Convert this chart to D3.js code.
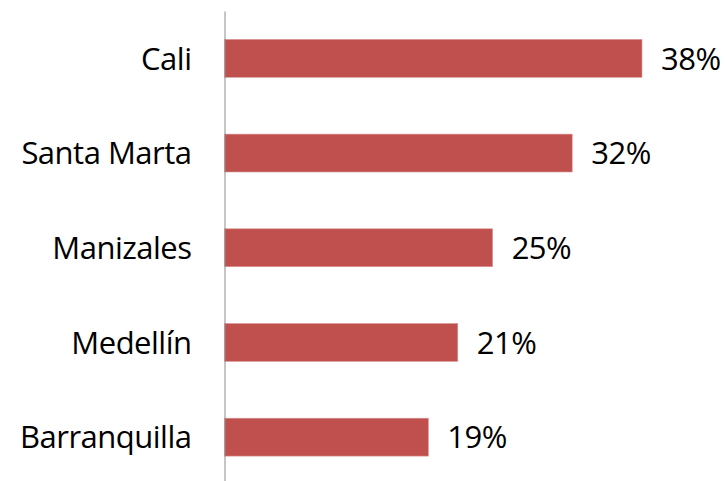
<!DOCTYPE html>
<html>
<head>
<meta charset="utf-8">
<script src="https://cdn.jsdelivr.net/npm/d3@7"></script>
<style>
  body { margin: 0; background: #fff; }
  svg { display: block; }
</style>
</head>
<body>
<div id="chart"></div>
<script>
// data (labels show the rounded value)
var cities = ["Cali", "Santa Marta", "Manizales", "Medellín", "Barranquilla"];
var shares = [0.383, 0.319, 0.246, 0.214, 0.187];

var width = 725, height = 481;
var left = 224.5, right = 715;
var fontFam = "'Open Sans', 'Noto Sans', sans-serif";

var svg = d3.select("#chart")
    .append("svg")
    .attr("width", width)
    .attr("height", height);

var x = d3.scaleLinear()
    .domain([0, 0.45])
    .range([left, right]);

var y = d3.scaleBand()
    .domain(cities)
    .range([11, 484.5])
    .paddingInner(0.6)
    .paddingOuter(0.3);

var rows = cities.map(function(c, i) { return {city: c, value: shares[i]}; });

// bars
svg.selectAll(".bar")
    .data(rows)
    .enter()
    .append("rect")
    .attr("class", "bar")
    .attr("x", x(0))
    .attr("y", function(d) { return y(d.city); })
    .attr("width", function(d) { return x(d.value) - x(0); })
    .attr("height", y.bandwidth())
    .attr("fill", "#c0504d")
    .attr("stroke", "#d99694")
    .attr("stroke-width", 0.6);

// category axis
var yAxis = svg.append("g")
    .attr("transform", "translate(" + left + ",0)")
    .call(d3.axisLeft(y).tickSize(0).tickSizeOuter(0).tickPadding(33));

yAxis.select(".domain")
    .attr("stroke", "#8c8c8c")
    .attr("stroke-width", 1);

yAxis.selectAll("text")
    .attr("font-family", fontFam)
    .attr("font-size", "31px")
    .attr("letter-spacing", "-0.5px")
    .attr("fill", "#000")
    .attr("dy", "0.36em");

// value labels
var fmt = d3.format(".0%");
svg.selectAll(".val")
    .data(rows)
    .enter()
    .append("text")
    .attr("class", "val")
    .attr("x", function(d) { return x(d.value) + 19; })
    .attr("y", function(d) { return y(d.city) + y.bandwidth() / 2; })
    .attr("dy", "0.36em")
    .attr("font-family", fontFam)
    .attr("font-size", "31px")
    .attr("letter-spacing", "-0.5px")
    .attr("fill", "#000")
    .text(function(d) { return fmt(d.value); });
</script>
</body>
</html>
